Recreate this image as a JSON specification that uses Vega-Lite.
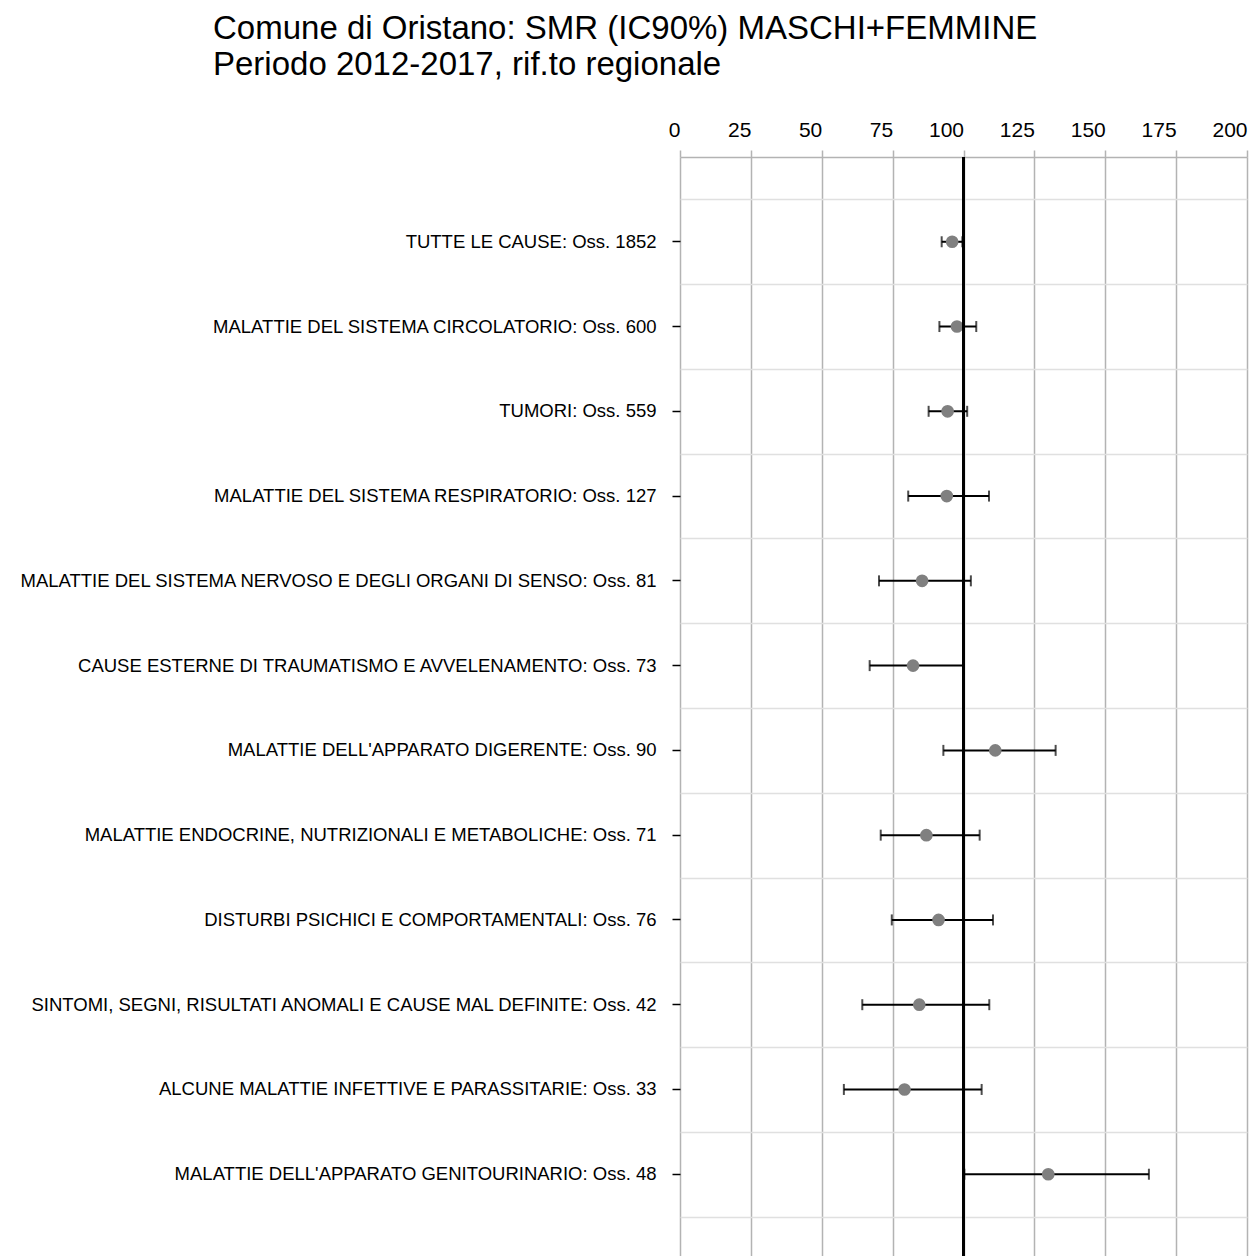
{
  "$schema": "https://vega.github.io/schema/vega-lite/v6.json",
  "width": 567,
  "height": 1102,
  "autosize": {"type": "none"},
  "padding": {"left": 680, "top": 157, "right": 4, "bottom": 0},
  "background": "white",
  "title": {
    "text": ["Comune di Oristano: SMR (IC90%) MASCHI+FEMMINE", "Periodo 2012-2017, rif.to regionale"],
    "anchor": "start",
    "frame": "group",
    "dx": -467,
    "fontSize": 33,
    "font": "Liberation Sans",
    "fontWeight": "normal",
    "color": "#000000",
    "lineHeight": 36,
    "offset": 37
  },
  "config": {"view": {"stroke": null}},
  "data": {
    "values": [
      {"causa": "TUTTE LE CAUSE: Oss. 1852", "smr": 96.0, "lo": 92.3, "hi": 99.6},
      {"causa": "MALATTIE DEL SISTEMA CIRCOLATORIO: Oss. 600", "smr": 97.7, "lo": 91.5, "hi": 104.5},
      {"causa": "TUMORI: Oss. 559", "smr": 94.4, "lo": 87.7, "hi": 101.3},
      {"causa": "MALATTIE DEL SISTEMA RESPIRATORIO: Oss. 127", "smr": 94.1, "lo": 80.5, "hi": 109.0},
      {"causa": "MALATTIE DEL SISTEMA NERVOSO E DEGLI ORGANI DI SENSO: Oss. 81", "smr": 85.4, "lo": 70.2, "hi": 102.6},
      {"causa": "CAUSE ESTERNE DI TRAUMATISMO E AVVELENAMENTO: Oss. 73", "smr": 82.2, "lo": 66.9, "hi": 99.9},
      {"causa": "MALATTIE DELL'APPARATO DIGERENTE: Oss. 90", "smr": 111.2, "lo": 92.9, "hi": 132.5},
      {"causa": "MALATTIE ENDOCRINE, NUTRIZIONALI E METABOLICHE: Oss. 71", "smr": 86.9, "lo": 70.8, "hi": 105.7},
      {"causa": "DISTURBI PSICHICI E COMPORTAMENTALI: Oss. 76", "smr": 91.2, "lo": 74.7, "hi": 110.4},
      {"causa": "SINTOMI, SEGNI, RISULTATI ANOMALI E CAUSE MAL DEFINITE: Oss. 42", "smr": 84.4, "lo": 64.3, "hi": 109.1},
      {"causa": "ALCUNE MALATTIE INFETTIVE E PARASSITARIE: Oss. 33", "smr": 79.2, "lo": 57.8, "hi": 106.4},
      {"causa": "MALATTIE DELL'APPARATO GENITOURINARIO: Oss. 48", "smr": 129.9, "lo": 100.3, "hi": 165.4}
    ]
  },
  "layer": [
    {
      "mark": {"type": "rule", "color": "#000000", "strokeWidth": 2},
      "encoding": {
        "x": {
          "field": "lo",
          "type": "quantitative",
          "scale": {"domain": [0, 200], "nice": false, "zero": false},
          "axis": {
            "orient": "top",
            "values": [0, 25, 50, 75, 100, 125, 150, 175, 200],
            "title": null,
            "grid": true,
            "gridColor": "#b3b3b3",
            "gridWidth": 1.5,
            "tickColor": "#b3b3b3",
            "tickSize": 7,
            "tickWidth": 1.5,
            "domainColor": "#b3b3b3",
            "domainWidth": 1.5,
            "labelFontSize": 21,
            "labelFont": "Liberation Sans",
            "labelColor": "#000000",
            "labelAlign": "right",
            "labelPadding": 10,
            "labelFlush": false
          }
        },
        "x2": {"field": "hi"},
        "y": {
          "field": "causa",
          "type": "nominal",
          "sort": null,
          "scale": {"type": "band", "paddingInner": 0, "paddingOuter": 0.5},
          "axis": {
            "orient": "right",
            "grid": true,
            "tickBand": "extent",
            "gridColor": "#e0e0e0",
            "gridWidth": 1.5,
            "labels": false,
            "ticks": false,
            "domain": false,
            "title": null
          }
        }
      }
    },
    {
      "mark": {"type": "tick", "orient": "vertical", "color": "#000000", "size": 11, "thickness": 2},
      "encoding": {
        "x": {"field": "lo", "type": "quantitative"},
        "y": {
          "field": "causa",
          "type": "nominal",
          "sort": null,
          "axis": {
            "orient": "left",
            "grid": false,
            "title": null,
            "domain": false,
            "tickColor": "#000000",
            "tickSize": 8,
            "tickWidth": 1.5,
            "labelFont": "Liberation Sans",
            "labelFontSize": 18.5,
            "labelColor": "#000000",
            "labelPadding": 16,
            "labelLimit": 700
          }
        }
      }
    },
    {
      "mark": {"type": "tick", "orient": "vertical", "color": "#000000", "size": 11, "thickness": 2},
      "encoding": {
        "x": {"field": "hi", "type": "quantitative"},
        "y": {"field": "causa", "type": "nominal", "sort": null, "axis": null}
      }
    },
    {
      "mark": {"type": "circle", "color": "#808080", "opacity": 1, "size": 160},
      "encoding": {
        "x": {"field": "smr", "type": "quantitative"},
        "y": {"field": "causa", "type": "nominal", "sort": null, "axis": null}
      }
    },
    {
      "mark": {"type": "rule", "color": "#000000", "strokeWidth": 2},
      "encoding": {"x": {"datum": 100}}
    }
  ],
  "resolve": {"axis": {"y": "independent"}}
}
